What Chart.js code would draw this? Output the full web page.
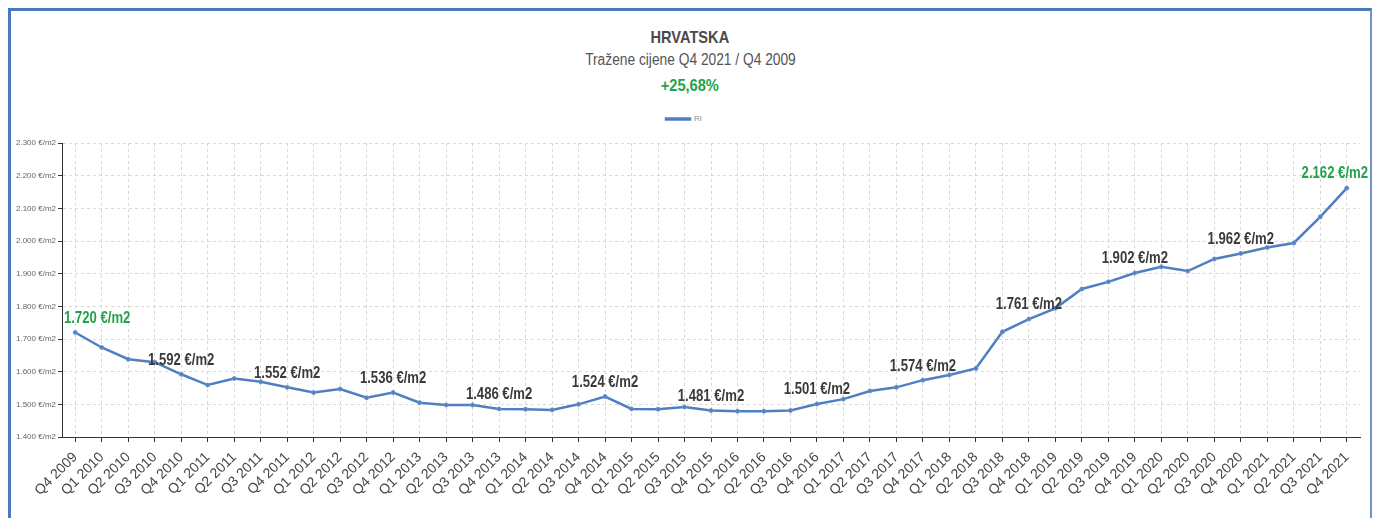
<!DOCTYPE html>
<html>
<head>
<meta charset="utf-8">
<title>HRVATSKA - tražene cijene</title>
<script src="https://cdn.jsdelivr.net/npm/chart.js@4.4.1/dist/chart.umd.min.js"></script>
<style>
    html, body { margin: 0; padding: 0; background: #fff; }
    body {
        width: 1380px; height: 518px; position: relative; overflow: hidden;
        font-family: "Liberation Sans", Arial, sans-serif;
    }
    #frame {
        position: absolute; left: 8px; top: 8px; width: 1359px; height: 540px;
        border-top: 3px solid #4a78bb; border-left: 3px solid #4a78bb; border-right: 2px solid #6d93c9;
    }
    .head { position: absolute; left: 0; width: 1380px; text-align: center; line-height: 20px; }
    .head span { display: inline-block; transform: scaleX(0.86); }
    #t1 { top: 28px; font-size: 17px; font-weight: bold; color: #4a4a4a; }
    #t2 { top: 50px; font-size: 16px; color: #555; }
    #t3 { top: 76px; font-size: 17px; font-weight: bold; color: #22a24b; }
    #wrap { position: absolute; left: 0; top: 0; width: 1380px; height: 518px; }
</style>
</head>
<body>
<div id="frame"></div>
<div class="head" id="t1"><span>HRVATSKA</span></div>
<div class="head" id="t2"><span>Tražene cijene Q4 2021 / Q4 2009</span></div>
<div class="head" id="t3"><span>+25,68%</span></div>
<div id="wrap"><canvas id="priceChart" width="1380" height="518"></canvas></div>

<script>
// Data
const QUARTERS = [
    'Q4 2009',
    'Q1 2010', 'Q2 2010', 'Q3 2010', 'Q4 2010',
    'Q1 2011', 'Q2 2011', 'Q3 2011', 'Q4 2011',
    'Q1 2012', 'Q2 2012', 'Q3 2012', 'Q4 2012',
    'Q1 2013', 'Q2 2013', 'Q3 2013', 'Q4 2013',
    'Q1 2014', 'Q2 2014', 'Q3 2014', 'Q4 2014',
    'Q1 2015', 'Q2 2015', 'Q3 2015', 'Q4 2015',
    'Q1 2016', 'Q2 2016', 'Q3 2016', 'Q4 2016',
    'Q1 2017', 'Q2 2017', 'Q3 2017', 'Q4 2017',
    'Q1 2018', 'Q2 2018', 'Q3 2018', 'Q4 2018',
    'Q1 2019', 'Q2 2019', 'Q3 2019', 'Q4 2019',
    'Q1 2020', 'Q2 2020', 'Q3 2020', 'Q4 2020',
    'Q1 2021', 'Q2 2021', 'Q3 2021', 'Q4 2021'
];
const PRICES_RI = [
    1720,
    1674, 1638, 1629, 1592,
    1559, 1579, 1569, 1552,
    1536, 1547, 1520, 1536,
    1505, 1498, 1498, 1486,
    1485, 1483, 1500, 1524,
    1486, 1485, 1492, 1481,
    1479, 1479, 1481, 1501,
    1516, 1541, 1552, 1574,
    1590, 1610, 1722, 1761,
    1794, 1853, 1875, 1902,
    1921, 1908, 1945, 1962,
    1980, 1994, 2074, 2162
];
// every Q4 gets a value label, first and last in green
const LABELED = [0, 4, 8, 12, 16, 20, 24, 28, 32, 36, 40, 44, 48];
const HIGHLIGHTED = [0, 48];
const Y_MIN = 1400, Y_MAX = 2300, Y_STEP = 100;

const LINE_COLOR = '#4f7fc1';
const GREEN = '#22a24b';
const FONT = '"Liberation Sans", Arial, sans-serif';

function fmtEur(v) {
    return v.toString().replace(/\B(?=(\d{3})+(?!\d))/g, '.') + ' €/m2';
}

// Value labels above the Q4 points (squeezed to look like a narrow font)
const valueLabels = {
    id: 'valueLabels',
    afterDatasetsDraw(chart) {
        const { ctx } = chart;
        const meta = chart.getDatasetMeta(0);
        const sx = 0.82;
        ctx.save();
        ctx.font = 'bold 16px ' + FONT;
        ctx.textAlign = 'center';
        ctx.textBaseline = 'middle';
        LABELED.forEach(i => {
            const pt = meta.data[i];
            const text = fmtEur(PRICES_RI[i]);
            const w = ctx.measureText(text).width * sx;
            let x = pt.x;
            x = Math.max(x, chart.chartArea.left + w / 2 + 2);
            x = Math.min(x, chart.width - w / 2 - 12);
            ctx.fillStyle = HIGHLIGHTED.includes(i) ? GREEN : '#3a3a3a';
            ctx.save();
            ctx.translate(x, pt.y - 14);
            ctx.scale(sx, 1);
            ctx.fillText(text, 0, 0);
            ctx.restore();
        });
        ctx.restore();
    }
};

// Extra room under the legend
const legendGap = {
    id: 'legendGap',
    beforeInit(chart) {
        const fit = chart.legend.fit;
        chart.legend.fit = function () {
            fit.call(this);
            this.height += 10;
        };
    }
};

const ctx = document.getElementById('priceChart').getContext('2d');
new Chart(ctx, {
    type: 'line',
    data: {
        labels: QUARTERS,
        datasets: [{
            label: 'RI',
            data: PRICES_RI,
            borderColor: LINE_COLOR,
            backgroundColor: LINE_COLOR,
            borderWidth: 2.5,
            pointRadius: 2,
            pointBorderWidth: 1,
            pointBorderColor: '#6f97cf',
            pointBackgroundColor: LINE_COLOR,
            tension: 0
        }]
    },
    options: {
        responsive: false,
        animation: false,
        devicePixelRatio: 1,
        layout: { padding: { top: 107, left: 8, right: 20, bottom: 0 } },
        plugins: {
            legend: {
                position: 'top',
                labels: {
                    color: '#888',
                    font: { family: FONT, size: 8 },
                    boxWidth: 24,
                    boxHeight: 1,
                    padding: 8
                }
            },
            tooltip: { enabled: false }
        },
        scales: {
            x: {
                offset: true,
                grid: {
                    offset: false,
                    color: '#d8d8d8',
                    tickColor: '#333',
                    tickLength: 5,
                    tickBorderDash: []
                },
                border: { color: '#333', width: 1, dash: [3, 3] },
                ticks: {
                    color: '#444',
                    font: { family: FONT, size: 14 },
                    minRotation: 45,
                    maxRotation: 45,
                    autoSkip: false,
                    padding: 7
                },
                afterFit: s => { s.height = 81; }
            },
            y: {
                min: Y_MIN,
                max: Y_MAX,
                grid: {
                    color: '#d8d8d8',
                    tickColor: '#333',
                    tickLength: 4,
                    tickBorderDash: []
                },
                border: { color: '#333', width: 1, dash: [3, 3] },
                ticks: {
                    stepSize: Y_STEP,
                    color: '#666',
                    font: { family: FONT, size: 8 },
                    padding: 2,
                    callback: v => fmtEur(v)
                },
                afterFit: s => { s.width = 54; }
            }
        }
    },
    plugins: [legendGap, valueLabels]
});
</script>
</body>
</html>
